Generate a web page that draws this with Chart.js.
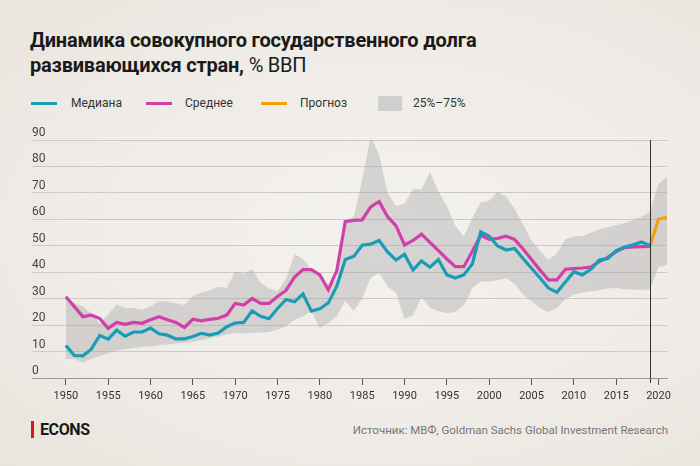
<!DOCTYPE html>
<html>
<head>
<meta charset="utf-8">
<script src="https://cdn.jsdelivr.net/npm/chart.js@4.4.1/dist/chart.umd.min.js"></script>
<style>
  html, body { margin: 0; padding: 0; }
  body {
    width: 700px; height: 466px; position: relative; overflow: hidden;
    font-family: Roboto, "Noto Sans", sans-serif; color: #1a1a1a;
    background: radial-gradient(ellipse at 55% 50%, #f4f2ef 0%, #efebe6 60%, #e9e4dd 100%);
  }
  #title { position: absolute; left: 30px; top: 28px; font-size: 20px; line-height: 25px; font-weight: 700; letter-spacing: -0.2px; }
  #title span { font-weight: 400; }
  .lg { position: absolute; top: 95px; height: 17px; font-size: 12px; line-height: 17px; color: #333; }
  .sw { position: absolute; top: 7px; width: 26px; height: 3px; }
  .box { position: absolute; top: 1px; width: 24px; height: 15px; background: #cfcfcf; }
  .lg .t { position: absolute; white-space: nowrap; }
  #chart-wrap { position: absolute; left: 0; top: 120px; width: 700px; height: 300px; }
  #brand { position: absolute; left: 31px; top: 421px; height: 17px; font-size: 16px; line-height: 17px; font-weight: 700; letter-spacing: -0.4px; padding-left: 6px; border-left: 3px solid #e3141b; }
  #source { position: absolute; right: 32px; top: 422px; font-size: 11.5px; line-height: 16px; color: #777; }
</style>
</head>
<body>
<div id="title">Динамика совокупного государственного долга<br>развивающихся стран, <span>% ВВП</span></div>

<div class="lg" style="left:31px"><div class="sw" style="background:#1a9cb6"></div><div class="t" style="left:40px">Медиана</div></div>
<div class="lg" style="left:146px"><div class="sw" style="background:#d23fa8"></div><div class="t" style="left:39px">Среднее</div></div>
<div class="lg" style="left:261px"><div class="sw" style="background:#f0a10a"></div><div class="t" style="left:39px">Прогноз</div></div>
<div class="lg" style="left:378px"><div class="box"></div><div class="t" style="left:35px">25%–75%</div></div>

<div id="chart-wrap"><canvas id="debt-chart" width="700" height="300"></canvas></div>

<div id="brand">ECONS</div>
<div id="source">Источник: МВФ, Goldman Sachs Global Investment Research</div>

<script>
// years on the x axis (forecast for the last two)
var years = [
  1950, 1951, 1952, 1953, 1954, 1955, 1956, 1957, 1958, 1959,
  1960, 1961, 1962, 1963, 1964, 1965, 1966, 1967, 1968, 1969,
  1970, 1971, 1972, 1973, 1974, 1975, 1976, 1977, 1978, 1979,
  1980, 1981, 1982, 1983, 1984, 1985, 1986, 1987, 1988, 1989,
  1990, 1991, 1992, 1993, 1994, 1995, 1996, 1997, 1998, 1999,
  2000, 2001, 2002, 2003, 2004, 2005, 2006, 2007, 2008, 2009,
  2010, 2011, 2012, 2013, 2014, 2015, 2016, 2017, 2018, 2019,
  2020, 2021
];
var xTicks = [1950, 1955, 1960, 1965, 1970, 1975, 1980, 1985, 1990, 1995, 2000, 2005, 2010, 2015, 2020];

// median, % GDP (1950-2019)
var median = [
  12.3, 8.5, 8.4, 10.9, 16.1, 14.7, 18.1, 15.8, 17.4, 17.4,
  18.9, 16.7, 16.2, 14.8, 14.8, 15.7, 16.9, 16.2, 17.0, 19.4,
  20.8, 21.0, 25.4, 23.3, 22.4, 26.3, 29.7, 28.8, 31.8, 25.3,
  26.2, 28.4, 34.7, 44.8, 46.0, 50.2, 50.6, 52.0, 47.7, 44.6,
  46.8, 40.8, 44.3, 41.9, 44.8, 39.0, 37.8, 39.0, 43.1, 55.3,
  53.6, 49.9, 48.4, 49.0, 45.2, 41.5, 37.8, 34.0, 32.4, 36.3,
  40.2, 39.0, 41.1, 44.6, 45.2, 48.2, 49.5, 50.4, 51.4, 50.0
];

// mean, % GDP (1950-2019)
var mean = [
  30.7, 27.0, 23.2, 23.8, 22.5, 18.8, 21.0, 20.3, 21.0, 20.7,
  22.0, 23.2, 22.0, 21.0, 19.1, 22.2, 21.6, 22.2, 22.6, 23.8,
  28.2, 27.6, 30.1, 28.2, 28.2, 30.8, 33.1, 38.1, 41.0, 41.0,
  39.0, 33.4, 40.6, 59.1, 59.6, 59.8, 64.7, 66.7, 61.0, 57.5,
  50.3, 52.0, 54.4, 51.3, 48.2, 45.0, 42.1, 42.1, 47.8, 54.0,
  52.4, 52.8, 53.6, 52.4, 48.8, 44.8, 40.8, 37.1, 37.1, 41.1,
  41.4, 41.6, 41.9, 44.0, 45.6, 47.8, 49.3, 49.6, 49.7, 49.8
];

// forecast (starts from the last actual median)
var forecastYears = [2019, 2020, 2021];
var forecast = [50.0, 60.1, 60.8];
var forecastStart = 2019;

// 25th-75th percentile band (1950-2021)
var upper = [
  29.5, 28.5, 27.0, 24.5, 20.5, 24.0, 27.8, 26.3, 26.5, 25.8,
  27.0, 29.0, 28.8, 28.3, 27.6, 30.8, 32.3, 33.2, 34.5, 34.0,
  40.3, 39.4, 41.2, 36.0, 33.8, 32.8, 37.5, 46.8, 45.0, 41.0,
  38.5, 35.2, 37.3, 59.8, 61.0, 75.0, 91.5, 84.5, 70.0, 65.0,
  66.0, 71.4, 71.4, 77.8, 70.5, 65.0, 57.5, 53.5, 60.5, 66.5,
  67.0, 70.3, 68.5, 64.0, 58.0, 52.0, 48.0, 44.6, 47.1, 52.5,
  53.6, 53.6, 55.0, 56.2, 57.0, 57.8, 58.5, 59.7, 61.0, 63.0,
  73.5, 76.0
];
var lower = [
  7.2, 7.2, 5.9, 7.3, 8.4, 9.4, 10.4, 11.0, 11.3, 11.7,
  12.0, 12.4, 12.7, 13.0, 13.3, 13.7, 14.3, 15.0, 15.7, 16.5,
  17.0, 16.8, 17.0, 17.2, 17.4, 18.3, 19.5, 22.0, 23.3, 25.2,
  18.9, 20.8, 23.3, 29.2, 25.2, 30.2, 37.8, 39.7, 34.6, 32.1,
  22.5, 23.5, 30.5, 26.5, 25.2, 24.6, 25.0, 27.5, 34.0, 36.5,
  36.5, 37.0, 37.7, 35.5, 31.5, 29.0, 26.5, 25.0, 26.5, 30.0,
  31.5, 32.3, 32.8, 33.3, 33.8, 34.0, 33.5, 33.5, 33.3, 33.5,
  42.0, 42.7
];

function pts(xs, ys) {
  return ys.map(function(v, i) { return { x: xs[i], y: v }; });
}

var forecastLine = {
  id: 'forecastLine',
  afterDatasetsDraw: function(chart) {
    var x = Math.round(chart.scales.x.getPixelForValue(forecastStart)) + 0.5;
    var c = chart.ctx;
    c.save();
    c.strokeStyle = '#333';
    c.lineWidth = 1;
    c.beginPath();
    c.moveTo(x, chart.chartArea.top);
    c.lineTo(x, chart.chartArea.bottom + 5);
    c.stroke();
    c.restore();
  }
};

Chart.defaults.font.family = 'Roboto';

var ctx = document.getElementById('debt-chart');
var debtChart = new Chart(ctx, {
  type: 'line',
  data: {
    datasets: [
      { label: 'Медиана', data: pts(years, median), borderColor: '#1a9cb6', borderWidth: 3.2, pointRadius: 0, fill: false },
      { label: 'Среднее', data: pts(years, mean), borderColor: '#d23fa8', borderWidth: 3.2, pointRadius: 0, fill: false },
      { label: 'Прогноз', data: pts(forecastYears, forecast), borderColor: '#f0a10a', borderWidth: 3.2, pointRadius: 0, fill: false },
      { label: '75%', data: pts(years, upper), borderWidth: 0, borderColor: 'transparent', pointRadius: 0, fill: '+1', backgroundColor: 'rgba(168,168,170,0.4)' },
      { label: '25%', data: pts(years, lower), borderWidth: 0, borderColor: 'transparent', pointRadius: 0, fill: false }
    ]
  },
  options: {
    responsive: false,
    animation: false,
    devicePixelRatio: 1,
    layout: { padding: { left: 32, right: 33, top: 20, bottom: 12 } },
    plugins: { legend: { display: false }, tooltip: { enabled: false } },
    scales: {
      x: {
        type: 'linear',
        min: 1946,
        max: 2021,
        afterFit: function(s) { s.height = 30; },
        afterBuildTicks: function(s) { s.ticks = xTicks.map(function(v) { return { value: v }; }); },
        grid: { drawOnChartArea: false, drawTicks: true, tickLength: 7, color: '#555' },
        border: { display: true, color: '#999', width: 1 },
        ticks: {
          padding: 5, color: '#333',
          font: { size: 11 },
          callback: function(v) { return String(v); }
        }
      },
      y: {
        min: 0,
        max: 90,
        afterFit: function(s) { s.width = 0; },
        grid: { color: '#cdc9c3', drawTicks: false },
        border: { display: false },
        ticks: { stepSize: 10, mirror: true, padding: 0, labelOffset: -7, color: '#444', font: { size: 12 } }
      }
    }
  },
  plugins: [forecastLine]
});
</script>
</body>
</html>
